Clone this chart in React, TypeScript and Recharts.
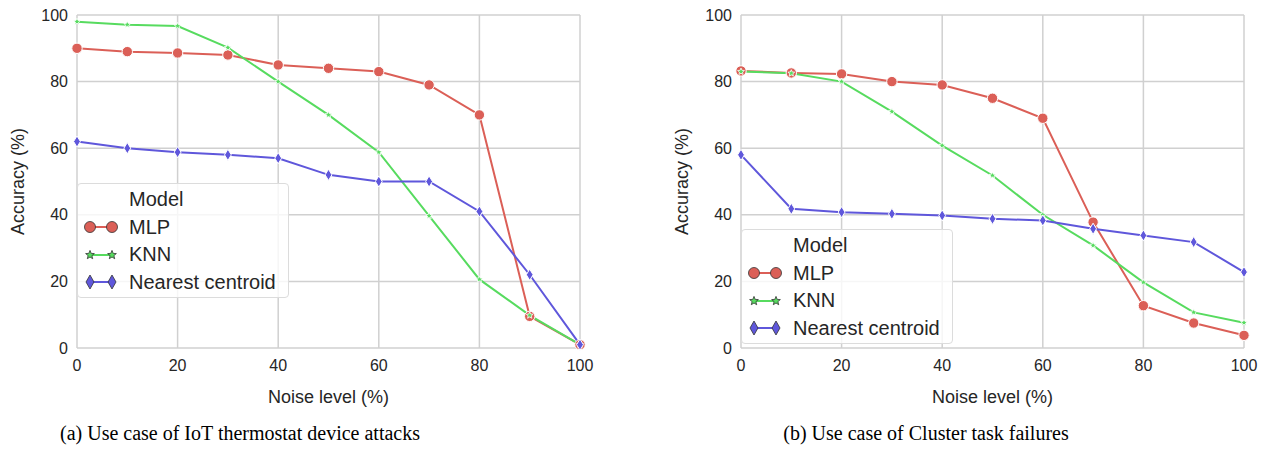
import React from 'react';
import { LineChart, Line, XAxis, YAxis, CartesianGrid, Legend } from 'recharts';

// noise level on x, accuracy (%) on y
const noise = [0, 10, 20, 30, 40, 50, 60, 70, 80, 90, 100];
const xTicks = [0, 20, 40, 60, 80, 100];
const yTicks = [0, 20, 40, 60, 80, 100];

// (a) IoT thermostat device attacks
const iotMlp = [90, 89, 88.6, 88, 85, 84, 83, 79, 70, 9.5, 1];
const iotKnn = [98, 97.1, 96.7, 90.2, 80, 70, 58.8, 39.7, 20.6, 9.8, 1];
const iotNc = [62, 60, 58.8, 58, 57, 52, 50, 50, 41, 22, 1];

// (b) Cluster task failures
const clusterMlp = [83.2, 82.6, 82.3, 80, 79, 75, 69, 37.8, 12.7, 7.5, 3.8];
const clusterKnn = [83, 82.5, 80, 71, 60.8, 51.8, 40, 30.8, 19.7, 10.7, 7.6];
const clusterNc = [58, 41.8, 40.8, 40.3, 39.8, 38.8, 38.3, 35.8, 33.8, 31.8, 22.8];

const RED = '#db5f57';
const GREEN = '#57db5f';
const BLUE = '#5f57db';
const GRID = '#d0d0d0';
const INK = '#262626';
const SANS = '"Liberation Sans", Arial, sans-serif';

function toRows(mlp: number[], knn: number[], nc: number[]) {
  return noise.map((n, i) => ({ noise: n, mlp: mlp[i], knn: knn[i], nc: nc[i] }));
}

function starPath(cx: number, cy: number, R: number, r: number) {
  let d = '';
  for (let i = 0; i < 10; i++) {
    const rad = i % 2 === 0 ? R : r;
    const a = -Math.PI / 2 + (i * Math.PI) / 5;
    d += (i === 0 ? 'M' : 'L') + (cx + rad * Math.cos(a)).toFixed(2) + ',' + (cy + rad * Math.sin(a)).toFixed(2);
  }
  return d + 'Z';
}

function diamondPath(cx: number, cy: number, w: number, h: number) {
  return `M${cx},${cy - h}L${cx + w},${cy}L${cx},${cy + h}L${cx - w},${cy}Z`;
}

const circleDot = (p: any) => (
  <circle key={`c${p.index}`} cx={p.cx} cy={p.cy} r={5.2} fill={RED} stroke="#fff" strokeWidth={1} />
);
const starDot = (p: any) => (
  <path key={`s${p.index}`} d={starPath(p.cx, p.cy, 3.6, 1.6)} fill={GREEN} stroke="#fff" strokeWidth={0.8} />
);
const diamondDot = (p: any) => (
  <path key={`d${p.index}`} d={diamondPath(p.cx, p.cy, 3.4, 5.6)} fill={BLUE} stroke="#fff" strokeWidth={1} />
);

function Handle({ kind, color }: { kind: string; color: string }) {
  const mark = (x: number) => {
    if (kind === 'circle') return <circle cx={x} cy={10} r={5.5} fill={color} stroke="#333" strokeWidth={0.8} />;
    if (kind === 'star') return <path d={starPath(x, 10, 4.6, 2)} fill={color} stroke="#333" strokeWidth={0.8} />;
    return <path d={diamondPath(x, 10, 4, 7)} fill={color} stroke="#333" strokeWidth={0.8} />;
  };
  return (
    <svg width={40} height={20} style={{ display: 'block' }}>
      <line x1={10} y1={10} x2={32} y2={10} stroke={color} strokeWidth={2} />
      {mark(10)}
      {mark(32)}
    </svg>
  );
}

const legendItems = [
  { name: 'MLP', kind: 'circle', color: RED },
  { name: 'KNN', kind: 'star', color: GREEN },
  { name: 'Nearest centroid', kind: 'diamond', color: BLUE },
];

function ModelLegend() {
  const row = { display: 'flex', alignItems: 'center', height: 27.5 } as React.CSSProperties;
  return (
    <div
      style={{
        width: 212,
        height: 115,
        boxSizing: 'border-box',
        background: 'rgba(255,255,255,0.8)',
        border: '1px solid #dcdcdc',
        borderRadius: 4,
        padding: '2px 0 0 2px',
        fontFamily: SANS,
        fontSize: 20,
        color: INK,
      }}
    >
      <div style={row}>
        <span style={{ marginLeft: 49 }}>Model</span>
      </div>
      {legendItems.map((it) => (
        <div key={it.name} style={row}>
          <Handle kind={it.kind} color={it.color} />
          <span style={{ marginLeft: 9 }}>{it.name}</span>
        </div>
      ))}
    </div>
  );
}

function Panel({ data, left, legendTop }: { data: any[]; left: number; legendTop: number }) {
  const tick = { fontSize: 16, fill: INK, fontFamily: SANS };
  return (
    <div style={{ position: 'absolute', left, top: 0 }}>
      <LineChart width={600} height={412} data={data} margin={{ top: 15, right: 20, left: 0, bottom: 0 }}>
        <CartesianGrid stroke={GRID} strokeWidth={1.5} />
        <XAxis
          dataKey="noise"
          type="number"
          domain={[0, 100]}
          ticks={xTicks}
          axisLine={false}
          tickLine={false}
          tickSize={0}
          tickMargin={12}
          height={64}
          tick={tick}
          label={{ value: 'Noise level (%)', position: 'insideBottom', offset: 9, fontSize: 18, fill: INK, fontFamily: SANS }}
        />
        <YAxis
          type="number"
          domain={[0, 100]}
          ticks={yTicks}
          axisLine={false}
          tickLine={false}
          tickSize={0}
          tickMargin={9}
          width={77}
          tick={tick}
          label={{
            value: 'Accuracy (%)',
            angle: -90,
            position: 'insideLeft',
            offset: 18,
            fontSize: 18,
            fill: INK,
            fontFamily: SANS,
            style: { textAnchor: 'middle' },
          }}
        />
        <Legend
          layout="vertical"
          align="center"
          verticalAlign="middle"
          wrapperStyle={{ left: 77, top: legendTop, width: 212 }}
          content={() => <ModelLegend />}
        />
        <Line dataKey="mlp" name="MLP" stroke={RED} strokeWidth={2} dot={circleDot} isAnimationActive={false} />
        <Line dataKey="knn" name="KNN" stroke={GREEN} strokeWidth={2} dot={starDot} isAnimationActive={false} />
        <Line dataKey="nc" name="Nearest centroid" stroke={BLUE} strokeWidth={2} dot={diamondDot} isAnimationActive={false} />
      </LineChart>
    </div>
  );
}

const captionStyle: React.CSSProperties = {
  position: 'absolute',
  top: 422,
  width: 440,
  textAlign: 'center',
  fontFamily: '"Liberation Serif", "Times New Roman", serif',
  fontSize: 20,
  color: '#000',
  whiteSpace: 'nowrap',
};

export default function App() {
  return (
    <div style={{ position: 'absolute', left: 0, top: 0, width: 1266, height: 455, background: '#fff', overflow: 'hidden' }}>
      <Panel data={toRows(iotMlp, iotKnn, iotNc)} left={0} legendTop={183} />
      <Panel data={toRows(clusterMlp, clusterKnn, clusterNc)} left={664} legendTop={229} />
      <div style={{ ...captionStyle, left: 20 }}>(a) Use case of IoT thermostat device attacks</div>
      <div style={{ ...captionStyle, left: 706 }}>(b) Use case of Cluster task failures</div>
    </div>
  );
}
